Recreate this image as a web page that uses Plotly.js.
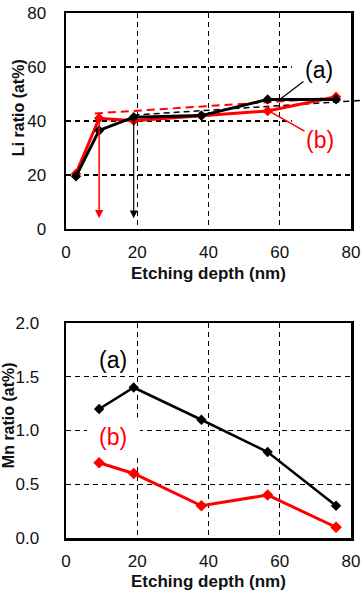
<!DOCTYPE html>
<html>
<head>
<meta charset="utf-8">
<script src="https://cdn.plot.ly/plotly-3.0.1.min.js"></script>
<style>
  html, body { margin: 0; padding: 0; background: #fff; }
  #chart { width: 363px; height: 600px; }
</style>
</head>
<body>
<div id="chart"></div>
<script>
// Li content (at%) versus etching depth (nm)
const liDepth = [2.8, 9.3, 19, 38, 56.6, 75.8];
const liA = [19.5, 36.5, 41.4, 42, 48, 48];
const liB = [20.5, 41, 40.1, 42, 43.7, 49];

// Linear trends drawn as dashed lines
const trendBDepth = [8.1, 75.8];
const trendBLi = [42.8, 48.6];
const trendADepth = [19, 82.5];
const trendALi = [42.2, 47.6];

// Mn content (at%) versus etching depth (nm)
const mnDepth = [9.3, 19, 38, 56.6, 75.8];
const mnA = [1.2, 1.4, 1.1, 0.8, 0.3];
const mnB = [0.7, 0.6, 0.3, 0.4, 0.1];

const depthTicks = [0, 20, 40, 60, 80];
const liTicks = [0, 20, 40, 60, 80];
const mnTicks = [0, 0.5, 1.0, 1.5, 2.0];

const FONT = 'Arial, "Liberation Sans", sans-serif';
const RED = '#ff0000';
const BLACK = '#000000';

const frame = {
  showline: true, mirror: true, linewidth: 2.5, linecolor: BLACK,
  showgrid: true, gridcolor: BLACK, gridwidth: 1.2, griddash: '5px,4px',
  zeroline: false, ticks: '',
  tickfont: { family: FONT, size: 17, color: '#111' }
};

const traces = [
  { x: trendBDepth, y: trendBLi, xaxis: 'x', yaxis: 'y', mode: 'lines',
    line: { color: RED, width: 2, dash: '8px,5px' }, hoverinfo: 'skip' },
  { x: trendADepth, y: trendALi, xaxis: 'x', yaxis: 'y', mode: 'lines',
    line: { color: BLACK, width: 1.5, dash: '6px,4px' }, hoverinfo: 'skip' },
  { x: liDepth, y: liB, xaxis: 'x', yaxis: 'y', mode: 'lines+markers', name: '(b)',
    line: { color: RED, width: 3 }, marker: { symbol: 'diamond', size: 8, color: RED } },
  { x: liDepth, y: liA, xaxis: 'x', yaxis: 'y', mode: 'lines+markers', name: '(a)',
    line: { color: BLACK, width: 3 }, marker: { symbol: 'diamond', size: 8, color: BLACK } },
  { x: mnDepth, y: mnA, xaxis: 'x2', yaxis: 'y2', mode: 'lines+markers', name: '(a)',
    line: { color: BLACK, width: 2.5 }, marker: { symbol: 'diamond', size: 8, color: BLACK } },
  { x: mnDepth, y: mnB, xaxis: 'x2', yaxis: 'y2', mode: 'lines+markers', name: '(b)',
    line: { color: RED, width: 3 }, marker: { symbol: 'diamond', size: 9, color: RED } }
];

// short piece of the black trend past the right edge of the frame
const xEdge = 80;
const slopeA = (trendALi[1] - trendALi[0]) / (trendADepth[1] - trendADepth[0]);
const yEdge = trendALi[0] + slopeA * (xEdge - trendADepth[0]);

const titleFont = { family: FONT, size: 17, color: '#111', weight: 'bold' };
const yTitleFont = { family: FONT, size: 16, color: '#111', weight: 'bold' };
const labelFont = (c) => ({ family: FONT, size: 23, color: c });

const annotations = [
  // axis titles
  { text: 'Etching depth (nm)', xref: 'paper', yref: 'paper', x: 0.5, y: 0.503,
    showarrow: false, font: titleFont, xanchor: 'center', yanchor: 'middle' },
  { text: 'Etching depth (nm)', xref: 'paper', yref: 'paper', x: 0.5, y: -0.0838,
    showarrow: false, font: titleFont, xanchor: 'center', yanchor: 'middle' },
  { text: 'Li ratio (at%)', xref: 'paper', yref: 'paper', x: -0.168, y: 0.819, textangle: -90,
    showarrow: false, font: yTitleFont, xanchor: 'center', yanchor: 'middle' },
  { text: 'Mn ratio (at%)', xref: 'paper', yref: 'paper', x: -0.2035, y: 0.234, textangle: -90,
    showarrow: false, font: yTitleFont, xanchor: 'center', yanchor: 'middle' },

  // series labels with leader lines (upper panel)
  { text: '(a)', xref: 'x', yref: 'y', x: liDepth[4] + 3.2, y: liA[4] - 0.2,
    axref: 'x', ayref: 'y', ax: 71.0, ay: 59, showarrow: true, arrowhead: 0,
    arrowwidth: 1.2, arrowcolor: BLACK, standoff: 0, font: labelFont(BLACK) },
  { text: '(b)', xref: 'x', yref: 'y', x: liDepth[4] + 0.8, y: liB[4] - 0.3,
    axref: 'x', ayref: 'y', ax: 71.3, ay: 33, showarrow: true, arrowhead: 0,
    arrowwidth: 1.5, arrowcolor: RED, standoff: 0, font: labelFont(RED) },

  // downward arrows at the two shallow depths
  { text: '', xref: 'x', yref: 'y', x: liDepth[1], y: 4, axref: 'x', ayref: 'y',
    ax: liDepth[1], ay: liB[1], showarrow: true, arrowhead: 2, arrowsize: 1.1,
    arrowwidth: 1.5, arrowcolor: RED, standoff: 0 },
  { text: '', xref: 'x', yref: 'y', x: liDepth[2], y: 4, axref: 'x', ayref: 'y',
    ax: liDepth[2], ay: liA[2], showarrow: true, arrowhead: 2, arrowsize: 1.3,
    arrowwidth: 1.2, arrowcolor: BLACK, standoff: 0 },

  // trend line continuing past the frame
  { text: '', xref: 'x', yref: 'y', x: trendADepth[1], y: trendALi[1], axref: 'x', ayref: 'y',
    ax: xEdge, ay: yEdge, showarrow: true, arrowhead: 0, arrowwidth: 1.5,
    arrowcolor: BLACK, standoff: 0 },

  // series labels (lower panel)
  { text: '(a)', xref: 'x2', yref: 'y2', x: 13.2, y: 1.66, showarrow: false,
    font: labelFont(BLACK) },
  { text: '(b)', xref: 'x2', yref: 'y2', x: 13.2, y: 0.94, showarrow: false,
    font: labelFont(RED) }
];

const layout = {
  width: 363, height: 600,
  paper_bgcolor: '#fff', plot_bgcolor: '#fff',
  margin: { l: 66, r: 12, t: 13, b: 62, pad: 0 },
  showlegend: false,
  xaxis: Object.assign({}, frame, { anchor: 'y', range: [0, 80], tickvals: depthTicks,
    ticktext: depthTicks.map(String), ticklabelstandoff: 6 }),
  yaxis: Object.assign({}, frame, { anchor: 'x', domain: [0.5886, 1], range: [0, 80],
    tickvals: liTicks, ticktext: liTicks.map(String), ticklabelstandoff: 14 }),
  xaxis2: Object.assign({}, frame, { anchor: 'y2', range: [0, 80], tickvals: depthTicks,
    ticktext: depthTicks.map(String), ticklabelstandoff: 6 }),
  yaxis2: Object.assign({}, frame, { anchor: 'x2', domain: [0, 0.4095], range: [0, 2],
    tickvals: mnTicks, ticktext: mnTicks.map(v => v.toFixed(1)), ticklabelstandoff: 21 }),
  shapes: [
    // white panels behind the labels, hiding the grid there
    { type: 'rect', xref: 'x', yref: 'y', x0: 63.4, x1: 80, y0: 37, y1: 64,
      fillcolor: '#ffffff', line: { width: 0 }, layer: 'between' },
    { type: 'rect', xref: 'x2', yref: 'y2', x0: 5.9, x1: 20.8, y0: 0.78, y1: 1.12,
      fillcolor: '#ffffff', line: { width: 0 }, layer: 'between' }
  ],
  annotations: annotations
};

Plotly.newPlot('chart', traces, layout, { displayModeBar: false, staticPlot: true });
</script>
</body>
</html>
